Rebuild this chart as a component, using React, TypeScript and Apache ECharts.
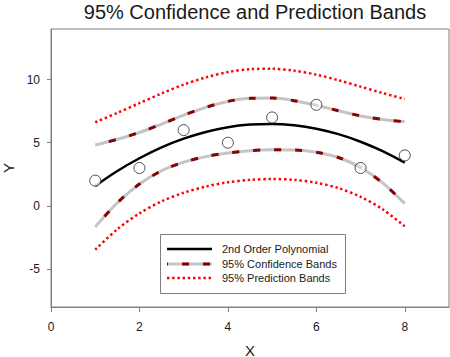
import React, { useEffect, useRef } from "react";
import * as echarts from "echarts";

const xPoints = [1, 2, 3, 4, 5, 6, 7, 8];
const yPoints = [2, 3, 6, 5, 7, 8, 3, 4];

const xCurve = [1, 1.5, 2, 2.5, 3, 3.5, 4, 4.5, 5, 5.5, 6, 6.5, 7, 7.5, 8];
const fitY = [1.58, 2.76, 3.77, 4.63, 5.32, 5.85, 6.23, 6.44, 6.49, 6.38, 6.11, 5.68, 5.08, 4.33, 3.42];
const confUpper = [4.82, 5.27, 5.81, 6.48, 7.18, 7.8, 8.27, 8.51, 8.53, 8.33, 7.97, 7.53, 7.12, 6.84, 6.66];
const confLower = [-1.66, 0.25, 1.73, 2.78, 3.46, 3.9, 4.19, 4.37, 4.45, 4.43, 4.25, 3.83, 3.04, 1.82, 0.18];
const predUpper = [6.62, 7.36, 8.13, 8.9, 9.6, 10.17, 10.59, 10.82, 10.85, 10.7, 10.39, 9.95, 9.44, 8.93, 8.46];
const predLower = [-3.46, -1.84, -0.59, 0.36, 1.04, 1.53, 1.87, 2.06, 2.13, 2.06, 1.83, 1.41, 0.72, -0.27, -1.62];

const xTicks = [0, 2, 4, 6, 8];
const yTicks = [-5, 0, 5, 10];

const legendLabels = ["2nd Order Polynomial", "95% Confidence Bands", "95% Prediction Bands"];

const FONT = "Liberation Sans, Arial, sans-serif";
const AXIS_GREY = "#808080";
const CONF_GREY = "#c4c4c4";
const CONF_RED = "#8b0000";
const PRED_RED = "#ff0000";
const TEXT = "#1a1a1a";

const pair = (xs: number[], ys: number[]) => xs.map((x, i) => [x, ys[i]]);

export default function App() {
  const ref = useRef<HTMLDivElement>(null);

  useEffect(() => {
    document.body.style.margin = "0";
    if (!ref.current) return;
    const chart = echarts.init(ref.current, undefined, { renderer: "svg" });

    const confBase = (data: number[][]) => ({
      type: "line",
      data,
      smooth: 0.3,
      showSymbol: false,
      symbol: "none",
      lineStyle: { color: CONF_GREY, width: 3 },
      z: 2,
    });
    const confDash = (data: number[][]) => ({
      type: "line",
      data,
      smooth: 0.3,
      showSymbol: false,
      symbol: "none",
      lineStyle: { color: CONF_RED, width: 3, type: [7, 14], dashOffset: 7, cap: "butt" },
      z: 3,
    });
    const pred = (data: number[][]) => ({
      type: "line",
      data,
      smooth: 0.3,
      showSymbol: false,
      symbol: "none",
      lineStyle: { color: PRED_RED, width: 2.5, type: [2.4, 2.8], cap: "butt" },
      z: 2,
    });

    const lx0 = 167, lx1 = 212, ltx = 222;
    const rowY = [249, 264, 278];

    chart.setOption({
      animation: false,
      backgroundColor: "#ffffff",
      textStyle: { fontFamily: FONT },
      title: {
        text: "95% Confidence and Prediction Bands",
        left: 250,
        top: -3,
        textAlign: "center",
        textStyle: { fontFamily: FONT, fontSize: 20, fontWeight: "normal", color: TEXT },
      },
      grid: {
        left: 51,
        right: 1,
        top: 29,
        bottom: 50,
        outerBoundsMode: "none",
        containLabel: false,
        show: true,
        borderColor: AXIS_GREY,
        borderWidth: 1,
        backgroundColor: "transparent",
      },
      xAxis: {
        type: "value",
        min: 0,
        max: 9,
        name: "X",
        nameLocation: "middle",
        nameGap: 36,
        nameTextStyle: { fontFamily: FONT, fontSize: 15, lineHeight: 14, color: TEXT },
        axisLine: { show: true, onZero: false, lineStyle: { color: AXIS_GREY, width: 1 } },
        axisTick: { show: true, length: 5, customValues: xTicks, lineStyle: { color: AXIS_GREY } },
        axisLabel: { customValues: xTicks, margin: 14, fontFamily: FONT, fontSize: 12, color: TEXT },
        splitLine: { show: false },
      },
      yAxis: {
        type: "value",
        min: -8,
        max: 14,
        name: "Y",
        nameLocation: "middle",
        nameRotate: 90,
        nameGap: 36,
        nameTextStyle: { fontFamily: FONT, fontSize: 15, lineHeight: 14, color: TEXT },
        axisLine: { show: true, onZero: false, lineStyle: { color: AXIS_GREY, width: 1 } },
        axisTick: { show: true, length: 4, customValues: yTicks, lineStyle: { color: AXIS_GREY } },
        axisLabel: { customValues: yTicks, margin: 11, fontFamily: FONT, fontSize: 12, color: TEXT },
        splitLine: { show: false },
      },
      series: [
        pred(pair(xCurve, predUpper)),
        pred(pair(xCurve, predLower)),
        confBase(pair(xCurve, confUpper)),
        confBase(pair(xCurve, confLower)),
        confDash(pair(xCurve, confUpper)),
        confDash(pair(xCurve, confLower)),
        {
          type: "line",
          data: pair(xCurve, fitY),
          smooth: 0.3,
          showSymbol: false,
          symbol: "none",
          lineStyle: { color: "#000000", width: 2.5 },
          z: 4,
        },
        {
          type: "scatter",
          data: pair(xPoints, yPoints),
          symbol: "circle",
          symbolSize: 11,
          itemStyle: { color: "#ffffff", borderColor: "#222222", borderWidth: 1 },
          z: 5,
        },
      ],
      graphic: [
        {
          type: "rect",
          shape: { x: 160.5, y: 234.5, width: 185, height: 59 },
          style: { fill: "#ffffff", stroke: AXIS_GREY, lineWidth: 1 },
          z: 10,
        },
        {
          type: "line",
          shape: { x1: lx0, y1: rowY[0], x2: lx1, y2: rowY[0] },
          style: { stroke: "#000000", lineWidth: 2.5 },
          z: 11,
        },
        {
          type: "line",
          shape: { x1: lx0, y1: rowY[1], x2: lx1, y2: rowY[1] },
          style: { stroke: CONF_GREY, lineWidth: 3 },
          z: 11,
        },
        {
          type: "line",
          shape: { x1: lx0, y1: rowY[1], x2: lx1, y2: rowY[1] },
          style: { stroke: CONF_RED, lineWidth: 3, lineDash: [7, 14], lineDashOffset: -15 },
          z: 12,
        },
        {
          type: "line",
          shape: { x1: lx0, y1: rowY[2], x2: lx1, y2: rowY[2] },
          style: { stroke: PRED_RED, lineWidth: 2.5, lineDash: [2.4, 2.8] },
          z: 11,
        },
        ...legendLabels.map((t, i) => ({
          type: "text",
          x: ltx,
          y: rowY[i],
          style: { text: t, fontFamily: FONT, fontSize: 11, fill: TEXT, verticalAlign: "middle", align: "left" },
          z: 12,
        })),
      ],
    });

    return () => chart.dispose();
  }, []);

  return <div ref={ref} style={{ width: 450, height: 357 }} />;
}
